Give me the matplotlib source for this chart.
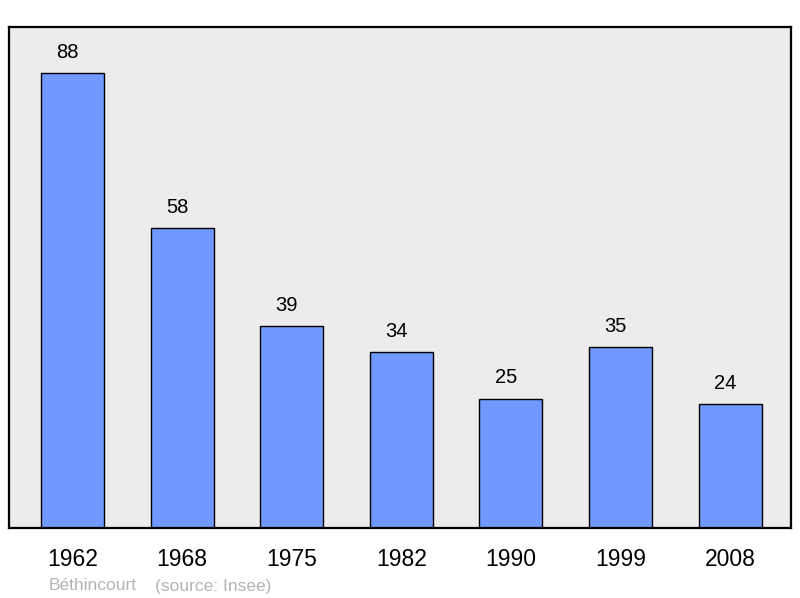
import matplotlib
matplotlib.use("Agg")
import matplotlib.pyplot as plt

years = ["1962", "1968", "1975", "1982", "1990", "1999", "2008"]
population = [88, 58, 39, 34, 25, 35, 24]
commune = "Béthincourt"
source = "(source: Insee)"

plt.rcParams["font.family"] = ["Liberation Sans", "DejaVu Sans"]

fig = plt.figure(figsize=(8.0, 5.98), dpi=100)
# axes box in pixels: left 9, right 791, top 27, bottom 528
ax = fig.add_axes([9 / 800, 1 - 528 / 598, 782 / 800, 501 / 598])
ax.set_facecolor("#ececec")

x = list(range(len(years)))
ax.bar(x, population, width=0.575, color="#7099ff", edgecolor="black", linewidth=1.0, zorder=2)

# value labels sit slightly left of the bar centre, as in the original
for xi, v in zip(x, population):
    ax.annotate(str(v), (xi, v), xytext=(-3.5, 11), textcoords="offset points",
                ha="center", va="baseline", fontsize=14.5, color="black")

ax.set_xlim(-0.579, 6.556)
ax.set_ylim(0, 96.9)
ax.set_xticks(x)
ax.set_xticklabels(years, fontsize=16.5)
ax.tick_params(axis="x", length=0, pad=14.5)
ax.set_yticks([])
for s in ax.spines.values():
    s.set_linewidth(1.6)
    s.set_color("black")

fig.text(49 / 800, 1 - 586 / 598, commune, fontsize=12.5, color="#b4b4b4", va="center", ha="left")
fig.text(155 / 800, 1 - 586 / 598, source, fontsize=12.5, color="#b4b4b4", va="center", ha="left")

fig.savefig("out.png", dpi=100, facecolor="white")
